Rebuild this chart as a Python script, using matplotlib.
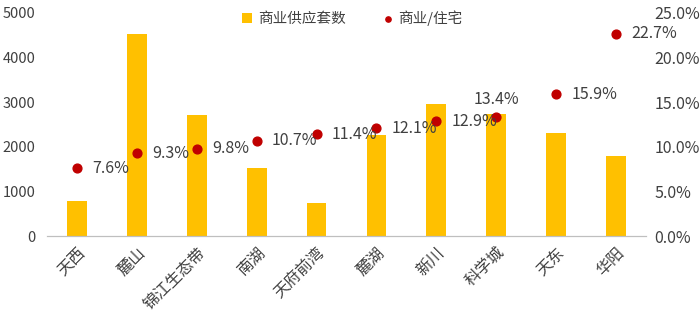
import numpy as np
import matplotlib.pyplot as plt
from matplotlib.ticker import PercentFormatter

plt.rcParams['font.family'] = ['Noto Sans CJK SC', 'DejaVu Sans']
plt.rcParams['font.size'] = 11

regions = ['天西', '麓山', '锦江生态带', '南湖', '天府前湾', '麓湖', '新川', '科学城', '天东', '华阳']
supply = [790, 4540, 2720, 1530, 740, 2270, 2960, 2740, 2320, 1800]
ratio = [7.6, 9.3, 9.8, 10.7, 11.4, 12.1, 12.9, 13.4, 15.9, 22.7]

bar_color = '#FFC000'
dot_color = '#C00000'
text_color = '#404040'

fig = plt.figure(figsize=(7, 3.17), dpi=100)
ax = fig.add_axes([0.067, 0.255, 0.856, 0.704])
ax2 = ax.twinx()

x = np.arange(len(regions))
ax.bar(x, supply, width=0.33, color=bar_color, label='商业供应套数', zorder=2)
ax2.scatter(x, ratio, s=40, color=dot_color, label='商业/住宅', zorder=3)

for i, r in enumerate(ratio):
    if regions[i] == '科学城':
        ax2.annotate('{:.1f}%'.format(r), (x[i], r), xytext=(0, 12), textcoords='offset points',
                     ha='center', va='center', color=text_color, fontsize=11.5)
    else:
        ax2.annotate('{:.1f}%'.format(r), (x[i], r), xytext=(11, 0), textcoords='offset points',
                     ha='left', va='center', color=text_color, fontsize=11.5)

ax.set_xlim(-0.5, len(regions) - 0.5)
ax.set_ylim(0, 5000)
ax.set_yticks(np.arange(0, 5001, 1000))
ax2.set_ylim(0, 25)
ax2.set_yticks(np.arange(0, 25.1, 5))
ax2.yaxis.set_major_formatter(PercentFormatter(decimals=1))

ax.set_xticks(x)
ax.set_xticklabels(regions, rotation=45, ha='right', rotation_mode='anchor')

for a in (ax, ax2):
    for side in ['top', 'left', 'right']:
        a.spines[side].set_visible(False)
    a.spines['bottom'].set_color('#BFBFBF')
    a.tick_params(length=0, colors=text_color, labelsize=11.5)
ax.tick_params(axis='x', pad=6)
ax.tick_params(axis='y', pad=8, labelsize=10.5)
ax2.tick_params(axis='y', pad=6)

h1, l1 = ax.get_legend_handles_labels()
h2, l2 = ax2.get_legend_handles_labels()
ax.legend(h1 + h2, l1 + l2, loc='upper center', bbox_to_anchor=(0.51, 1.07), ncol=2, frameon=False,
          fontsize=10.5, handlelength=0.7, handleheight=0.7, markerscale=0.6, columnspacing=2.5,
          handletextpad=0.4, labelcolor=text_color)

fig.savefig('out.png', dpi=100)
